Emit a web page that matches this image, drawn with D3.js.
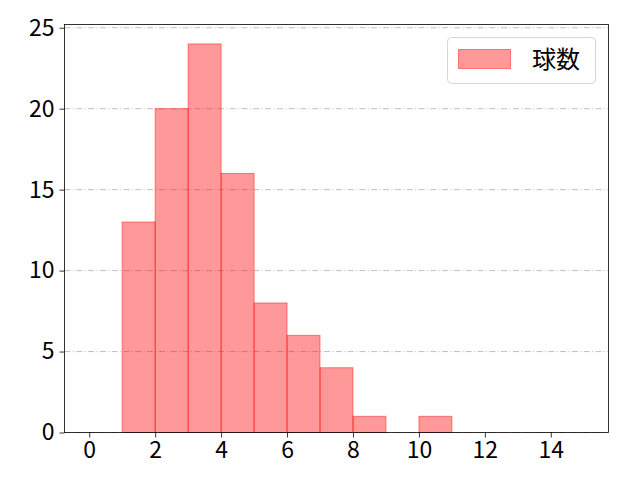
<!DOCTYPE html>
<html>
<head>
<meta charset="utf-8">
<script src="https://cdn.jsdelivr.net/npm/d3@7/dist/d3.min.js"></script>
<style>
  body { margin: 0; background: #fff; }
  svg text { font-family: "Noto Sans CJK JP", "DejaVu Sans", sans-serif; fill: #000; }
</style>
</head>
<body>
<div id="chart"></div>
<script>
// histogram bins (lower edges) and counts
let binStarts = [0, 1, 2, 3, 4, 5, 6, 7, 8, 9, 10, 11, 12, 13, 14];
let counts = [0, 13, 20, 24, 16, 8, 6, 4, 1, 0, 1, 0, 0, 0, 0];
let xTicks = [0, 2, 4, 6, 8, 10, 12, 14];
let yTicks = [0, 5, 10, 15, 20, 25];
let seriesName = "球数";

let w = 640;
let h = 480;
let padLeft = 64.5, padRight = 608.5, padTop = 24.5, padBottom = 432.5;

let svg = d3.select("#chart")
    .append("svg")
    .attr("width", w)
    .attr("height", h)
    .attr("viewBox", "0 0 " + w + " " + h);

let xScale = d3.scaleLinear().domain([-0.75, 15.75]).range([padLeft, padRight]);
let yScale = d3.scaleLinear().domain([0, 25.2]).range([padBottom, padTop]);

// grid lines
svg.append("g")
    .selectAll("line")
    .data(yTicks)
    .enter()
    .append("line")
    .attr("x1", padLeft)
    .attr("x2", padRight)
    .attr("y1", d => yScale(d))
    .attr("y2", d => yScale(d))
    .attr("stroke", "#b0b0b0")
    .attr("stroke-width", 0.8)
    .attr("stroke-dasharray", "6,2.4,1,2.4");

// bars
svg.append("g")
    .selectAll("rect")
    .data(binStarts)
    .enter()
    .append("rect")
    .attr("x", d => xScale(d))
    .attr("width", d => xScale(d + 1) - xScale(d))
    .attr("y", (d, i) => yScale(counts[i]))
    .attr("height", (d, i) => yScale(0) - yScale(counts[i]))
    .attr("fill", "red")
    .attr("fill-opacity", 0.4)
    .attr("stroke", "red")
    .attr("stroke-opacity", 0.45)
    .attr("stroke-width", 1);

// axes
let xAxis = d3.axisBottom(xScale).tickValues(xTicks).tickSize(5).tickPadding(4);
let xAxisGroup = svg.append("g")
    .attr("transform", "translate(0," + padBottom + ")")
    .call(xAxis);

let yAxis = d3.axisLeft(yScale).tickValues(yTicks).tickSize(5).tickPadding(5);
let yAxisGroup = svg.append("g")
    .attr("transform", "translate(" + padLeft + ",0)")
    .call(yAxis);

[xAxisGroup, yAxisGroup].forEach(function (g) {
    g.select(".domain").remove();
    g.selectAll(".tick line").attr("stroke", "#000").attr("stroke-width", 0.8);
    g.selectAll(".tick text").attr("font-size", 23).attr("font-family", "Noto Sans CJK JP").attr("fill", "#000");
});

// frame
svg.append("rect")
    .attr("x", padLeft)
    .attr("y", padTop)
    .attr("width", padRight - padLeft)
    .attr("height", padBottom - padTop)
    .attr("fill", "none")
    .attr("stroke", "#000")
    .attr("stroke-width", 0.8);

// legend
let legend = svg.append("g");
legend.append("rect")
    .attr("x", 447.5)
    .attr("y", 37.5)
    .attr("width", 148)
    .attr("height", 46)
    .attr("rx", 4)
    .attr("fill", "#fff")
    .attr("fill-opacity", 0.8)
    .attr("stroke", "#cccccc")
    .attr("stroke-width", 0.8);
legend.append("rect")
    .attr("x", 458.5)
    .attr("y", 49.5)
    .attr("width", 52)
    .attr("height", 19)
    .attr("fill", "red")
    .attr("fill-opacity", 0.4)
    .attr("stroke", "red")
    .attr("stroke-opacity", 0.45);
legend.append("text")
    .attr("x", 532)
    .attr("y", 68)
    .attr("font-size", 24)
    .text(seriesName);
</script>
</body>
</html>
